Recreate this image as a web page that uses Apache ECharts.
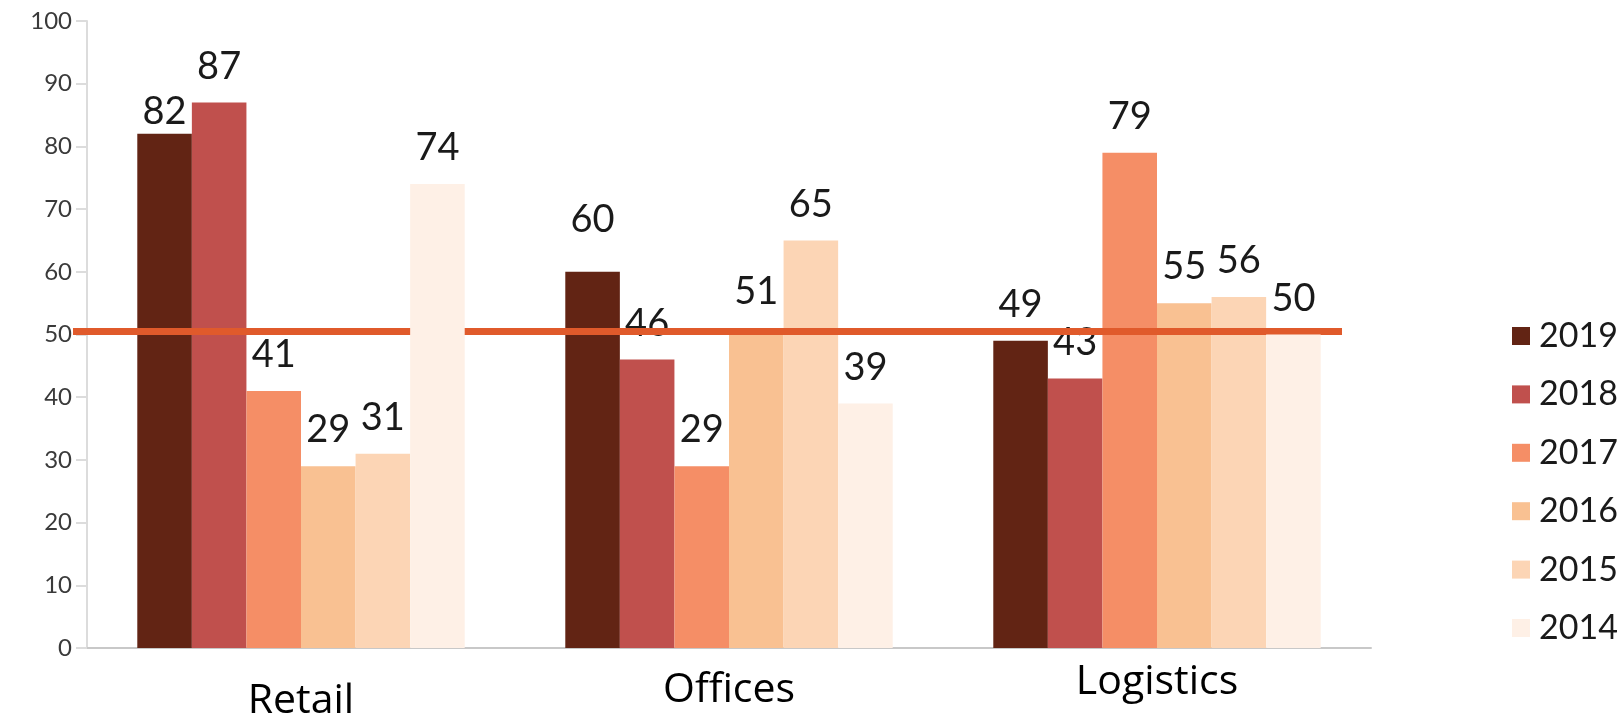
<!DOCTYPE html>
<html>
<head>
<meta charset="utf-8">
<script src="https://cdn.jsdelivr.net/npm/echarts@6/dist/echarts.min.js"></script>
<style>
  html, body { margin: 0; padding: 0; background: #ffffff; }
  #chart { width: 1623px; height: 723px; }
</style>
</head>
<body>
<div id="chart"></div>
<script>
// ---- data ----
const categories = ['Retail', 'Offices', 'Logistics'];
const years = ['2019', '2018', '2017', '2016', '2015', '2014'];
const v2019 = [82, 60, 49];
const v2018 = [87, 46, 43];
const v2017 = [41, 29, 79];
const v2016 = [29, 51, 55];
const v2015 = [31, 65, 56];
const v2014 = [74, 39, 50];
const threshold = 50.5;
const yTicks = [0, 10, 20, 30, 40, 50, 60, 70, 80, 90, 100];

// ---- styling ----
const seriesValues = [v2019, v2018, v2017, v2016, v2015, v2014];
const colors = ['#622414', '#C0504D', '#F58E66', '#F9C192', '#FCD5B5', '#FEF0E6'];
const labelDistance = { '2019': [3, 33, 17] };
const catLabelPadTop = [19, 8, 0];

const chart = echarts.init(document.getElementById('chart'), null, { renderer: 'canvas' });

const series = years.map(function (y, si) {
  const s = {
    name: y,
    type: 'bar',
    barGap: '0%',
    barCategoryGap: '23.5%',
    itemStyle: { color: colors[si] },
    label: {
      show: true,
      position: 'top',
      distance: 17,
      fontFamily: 'Lato',
      fontSize: 38,
      color: '#1a1a1a'
    },
    data: seriesValues[si].map(function (v, ci) {
      const item = { value: v };
      if (labelDistance[y]) item.label = { distance: labelDistance[y][ci] };
      return item;
    })
  };
  if (si === years.length - 1) {
    s.z = 5;
    s.markLine = {
      silent: true,
      symbol: ['none', 'none'],
      label: { show: false },
      lineStyle: { color: '#E05A2B', width: 7, type: 'solid' },
      emphasis: { disabled: true },
      data: [[{ x: 73, yAxis: threshold }, { x: 1342, yAxis: threshold }]]
    };
  }
  return s;
});

const rich = {};
categories.forEach(function (c, i) {
  rich['c' + i] = {
    fontFamily: 'Open Sans',
    fontSize: 41,
    color: '#000000',
    padding: [catLabelPadTop[i], 0, 0, 0]
  };
});

chart.setOption({
  animation: false,
  backgroundColor: '#ffffff',
  grid: { left: 87, right: 252, top: 21, bottom: 75, containLabel: false },
  legend: {
    orient: 'vertical',
    left: 1507,
    top: 314,
    itemWidth: 18,
    itemHeight: 18,
    itemGap: 24.4,
    icon: 'rect',
    textStyle: { fontFamily: 'Lato', fontSize: 34, color: '#1a1a1a', padding: [0, 0, 0, 4] },
    data: years
  },
  xAxis: {
    type: 'category',
    data: categories,
    axisLine: { show: true, lineStyle: { color: '#c8c8c8', width: 2 } },
    axisTick: { show: false },
    axisLabel: {
      fontFamily: 'Open Sans',
      fontSize: 41,
      color: '#000000',
      margin: 14,
      formatter: function (val, idx) { return '{c' + idx + '|' + val + '}'; },
      rich: rich
    }
  },
  yAxis: {
    type: 'value',
    min: yTicks[0],
    max: yTicks[yTicks.length - 1],
    interval: yTicks[1] - yTicks[0],
    axisLine: { show: true, lineStyle: { color: '#dcdcdc', width: 2 } },
    axisTick: { show: true, length: 11, lineStyle: { color: '#dcdcdc', width: 2 } },
    splitLine: { show: false },
    axisLabel: { fontFamily: 'Lato', fontSize: 24, color: '#3a3a3a', margin: 15 }
  },
  series: series
});
</script>
</body>
</html>
